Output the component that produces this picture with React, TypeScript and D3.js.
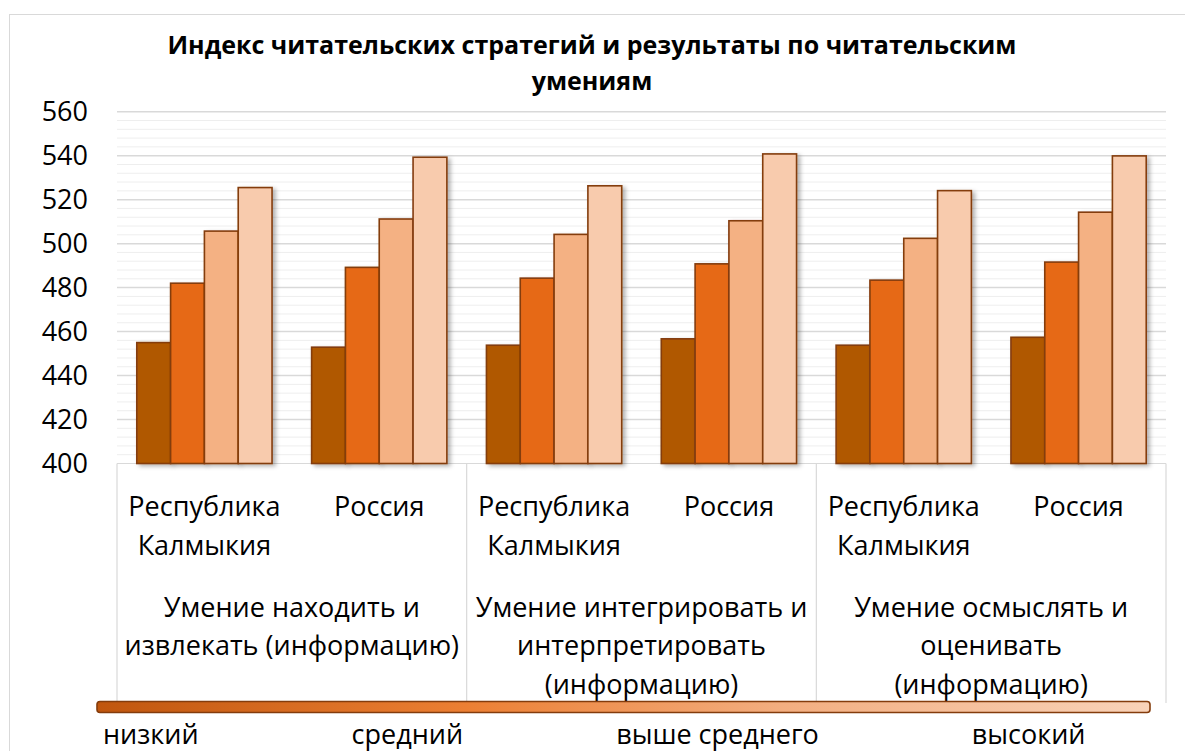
import * as d3 from "d3";
import React, { useRef, useEffect } from "react";

// skills (outer category level) and regions (inner category level)
const skills = [
  "Умение находить и\nизвлекать (информацию)",
  "Умение интегрировать и\nинтерпретировать\n(информацию)",
  "Умение осмыслять и\nоценивать\n(информацию)",
];
const regions = ["Республика\nКалмыкия", "Россия"];
const levels = ["низкий", "средний", "выше среднего", "высокий"];

// values in order: skill1/Калмыкия, skill1/Россия, skill2/Калмыкия, ...
const low = [455.0, 452.9, 453.8, 456.7, 453.8, 457.4];
const mid = [482.0, 489.2, 484.3, 490.8, 483.4, 491.6];
const aboveMid = [505.7, 511.2, 504.2, 510.4, 502.4, 514.3];
const high = [525.5, 539.3, 526.3, 540.8, 524.1, 539.9];

const yTicks = [400, 420, 440, 460, 480, 500, 520, 540, 560];
const title = ["Индекс читательских стратегий и результаты по читательским", "умениям"];

const colors = ["#B05800", "#E66914", "#F4B183", "#F8CBAD"];
const FONT = "'Open Sans', sans-serif";

function ReadingChart({ width, height }) {
  const ref = useRef(null);

  useEffect(() => {
    let svg = d3.select(ref.current);
    svg.selectAll("*").remove();
    draw();
  }, []);

  const draw = () => {
    const svg = d3.select(ref.current);
    const left = 117, right = 1166, top = 111.7, bottom = 463.5;

    const defs = svg.append("defs");
    defs.append("filter")
      .attr("id", "barShadow")
      .attr("x", "-20%").attr("y", "-10%")
      .attr("width", "160%").attr("height", "130%")
      .append("feDropShadow")
      .attr("dx", 3).attr("dy", 2)
      .attr("stdDeviation", 2.2)
      .attr("flood-color", "#000")
      .attr("flood-opacity", 0.3);

    const grad = defs.append("linearGradient").attr("id", "legendGrad");
    [["0", "#C0560E"], ["0.35", "#EC7F33"], ["0.65", "#F3AE80"], ["1", "#F9D3B9"]].forEach(([o, c]) =>
      grad.append("stop").attr("offset", o).attr("stop-color", c)
    );

    // chart border
    svg.append("rect")
      .attr("x", 9.5).attr("y", 14.5)
      .attr("width", 1300).attr("height", 900)
      .attr("fill", "#fff")
      .attr("stroke", "#D9D9D9");

    const cats = [];
    skills.forEach((s) => regions.forEach((r) => cats.push(s + "|" + r)));
    const series = [low, mid, aboveMid, high];

    const x0 = d3.scaleBand().domain(cats).range([left, right]);
    const x1 = d3.scaleBand().domain(levels).range([0, x0.bandwidth()]).paddingOuter(0.585);
    const xs = d3.scaleBand().domain(skills).range([left, right]);
    const y = d3.scaleLinear().domain([400, 560]).range([bottom, top]);

    // gridlines
    const grid = svg.append("g");
    d3.range(404, 561, 4).forEach((v) => {
      const major = v % 20 === 0;
      grid.append("line")
        .attr("x1", left).attr("x2", right)
        .attr("y1", y(v)).attr("y2", y(v))
        .attr("stroke", major ? "#D9D9D9" : "#EEEEEE")
        .attr("stroke-width", major ? 1.5 : 1);
    });

    // y labels
    svg.append("g")
      .selectAll("text")
      .data(yTicks)
      .enter()
      .append("text")
      .attr("x", 88)
      .attr("y", (d) => y(d) + 9.6)
      .attr("text-anchor", "end")
      .style("font-family", FONT)
      .style("font-size", "27px")
      .text((d) => d);

    // category box
    const box = svg.append("g").attr("stroke", "#D9D9D9").attr("stroke-width", 1.2);
    box.append("line").attr("x1", left).attr("x2", right).attr("y1", bottom).attr("y2", bottom);
    skills.concat([null]).forEach((s) => {
      const xx = s ? xs(s) : right;
      box.append("line").attr("x1", xx).attr("x2", xx).attr("y1", bottom).attr("y2", 703);
    });

    // bars
    const bars = svg.append("g");
    cats.forEach((c, ci) => {
      levels.forEach((lv, li) => {
        const v = series[li][ci];
        bars.append("rect")
          .attr("x", x0(c) + x1(lv))
          .attr("y", y(v))
          .attr("width", x1.bandwidth())
          .attr("height", y(400) - y(v))
          .attr("fill", colors[li])
          .attr("stroke", "#843C0C")
          .attr("stroke-width", 1.6)
          .attr("filter", "url(#barShadow)");
      });
    });

    const multiline = (g, str, cx, y0, lh) => {
      const t = g.append("text")
        .attr("text-anchor", "middle")
        .style("font-family", FONT)
        .style("font-size", "27px");
      str.split("\n").forEach((ln, i) =>
        t.append("tspan").attr("x", cx).attr("y", y0 + i * lh).text(ln)
      );
    };

    // region labels
    const catG = svg.append("g");
    cats.forEach((c) => {
      const r = c.split("|")[1];
      multiline(catG, r, x0(c) + x0.bandwidth() / 2, 515.5, 39.5);
    });
    // skill labels
    skills.forEach((s) => {
      multiline(catG, s, xs(s) + xs.bandwidth() / 2, 616.5, 38.5);
    });

    // legend
    svg.append("rect")
      .attr("x", 97).attr("y", 701.5)
      .attr("width", 1150 - 97).attr("height", 11)
      .attr("rx", 3)
      .attr("fill", "url(#legendGrad)")
      .attr("stroke", "#843C0C")
      .attr("stroke-width", 1.6);

    let lx = 103;
    levels.forEach((lv) => {
      const t = svg.append("text")
        .attr("x", lx).attr("y", 744)
        .style("font-family", FONT)
        .style("font-size", "27px")
        .text(lv);
      lx += t.node().getComputedTextLength() + 153;
    });

    // title
    const tt = svg.append("text")
      .attr("text-anchor", "middle")
      .style("font-family", FONT)
      .style("font-size", "25px")
      .style("font-weight", "bold");
    title.forEach((ln, i) =>
      tt.append("tspan").attr("x", 592).attr("y", 54 + i * 36).text(ln)
    );
  };

  return (
    <svg
      ref={ref}
      width={width}
      height={height}
      style={{ position: "absolute", left: 0, top: 0, background: "#fff" }}
    ></svg>
  );
}

export default function App() {
  return <ReadingChart width={1185} height={751} />;
}
